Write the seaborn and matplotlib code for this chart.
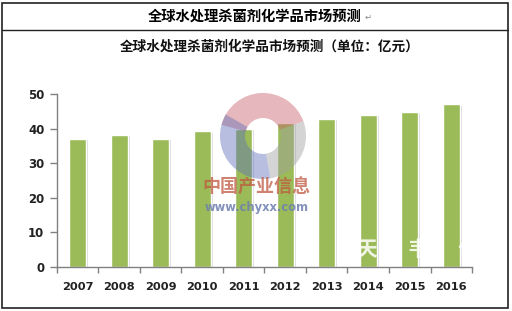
import matplotlib
matplotlib.use("Agg")
import matplotlib.pyplot as plt
import matplotlib.patheffects as pe
from matplotlib.patches import Rectangle, Wedge
import seaborn as sns
import pandas as pd

years = ["2007", "2008", "2009", "2010", "2011", "2012", "2013", "2014", "2015", "2016"]
values = [37.1, 38.1, 37.1, 39.2, 39.9, 41.7, 42.8, 43.9, 44.8, 47.0]
yticks = [0, 10, 20, 30, 40, 50]
header = "全球水处理杀菌剂化学品市场预测"
title = "全球水处理杀菌剂化学品市场预测（单位：亿元）"

sns.set_theme(style="white")
plt.rcParams["font.family"] = ["Noto Sans CJK SC", "DejaVu Sans"]

df = pd.DataFrame({"year": years, "value": values})

fig = plt.figure(figsize=(5.12, 3.11), dpi=100)
fig.patch.set_facecolor("white")
ax = fig.add_axes([0.111, 0.142, 0.811, 0.556])

sns.barplot(data=df, x="year", y="value", color="#9BBB59", saturation=1,
            width=0.41, ax=ax)
for p in ax.patches:
    p.set_path_effects([pe.SimplePatchShadow(offset=(1.5, -1), shadow_rgbFace="#d0d0d0", alpha=0.8), pe.Normal()])

ax.set_xlim(-0.5, len(years) - 0.5)
ax.set_ylim(0, 50)
ax.set_yticks(yticks)
ax.set_xlabel("")
ax.set_ylabel("")
for s in ["top", "right"]:
    ax.spines[s].set_visible(False)
for s in ["left", "bottom"]:
    ax.spines[s].set_color("#808080")
    ax.spines[s].set_linewidth(1.0)

ax.tick_params(axis="y", which="major", direction="out", length=5, width=1,
               color="#808080", left=True, labelsize=8.5, pad=4, labelcolor="#222222")
ax.tick_params(axis="x", which="major", length=0, labelsize=8.2, pad=11, labelcolor="#222222")
ax.set_xticks([i + 0.5 for i in range(-1, len(years))], minor=True)
ax.tick_params(axis="x", which="minor", direction="out", length=4, width=1,
               color="#808080", bottom=True)
for lab in ax.get_xticklabels() + ax.get_yticklabels():
    lab.set_fontweight("bold")
    lab.set_family(["DejaVu Sans"])

# overlay in pixel coordinates for the watermark logo
ov = fig.add_axes([0, 0, 1, 1], zorder=5)
ov.set_xlim(0, 512)
ov.set_ylim(311, 0)
ov.axis("off")
ov.patch.set_alpha(0)
cx, cy, r, w = 263, 136, 43, 25
for a0, a1, col in [(20, 165, "#c9606b"), (150, 280, "#6170b8"), (280, 380, "#a0a0a0")]:
    ov.add_patch(Wedge((cx, cy), r, -a1, -a0, width=w, facecolor=col, alpha=0.45, edgecolor="none"))
ov.text(256, 187, "中国产业信息", ha="center", va="center", fontsize=13,
        color="#c0583f", alpha=0.75, fontweight="bold")
ov.text(257, 207, "www.chyxx.com", ha="center", va="center", fontsize=8.3,
        color="#6d7fb0", alpha=0.85, fontweight="bold", family=["DejaVu Sans"])
for x, ch in [(367, "天"), (418, "韦"), (468, "化")]:
    ov.text(x, 250, ch, ha="center", va="center", fontsize=15, color="white",
            alpha=0.85, fontweight="bold")

# frame and header
fig.add_artist(Rectangle((0.004, 0.01), 0.988, 0.98, transform=fig.transFigure,
                         fill=False, edgecolor="#222222", linewidth=1.2))
fig.add_artist(plt.Line2D([0.004, 0.992], [0.905, 0.905], transform=fig.transFigure,
                          color="#222222", linewidth=1.0))
fig.text(0.498, 0.948, header, ha="center", va="center", fontsize=10.3,
         fontweight="bold", color="#000000")
fig.text(0.712, 0.944, "↵", ha="left", va="center", fontsize=6, color="#888888",
         family=["DejaVu Sans"])
fig.text(0.527, 0.85, title, ha="center", va="center", fontsize=9.8,
         fontweight="bold", color="#111111")

fig.savefig("out.png", dpi=100, facecolor="white")
